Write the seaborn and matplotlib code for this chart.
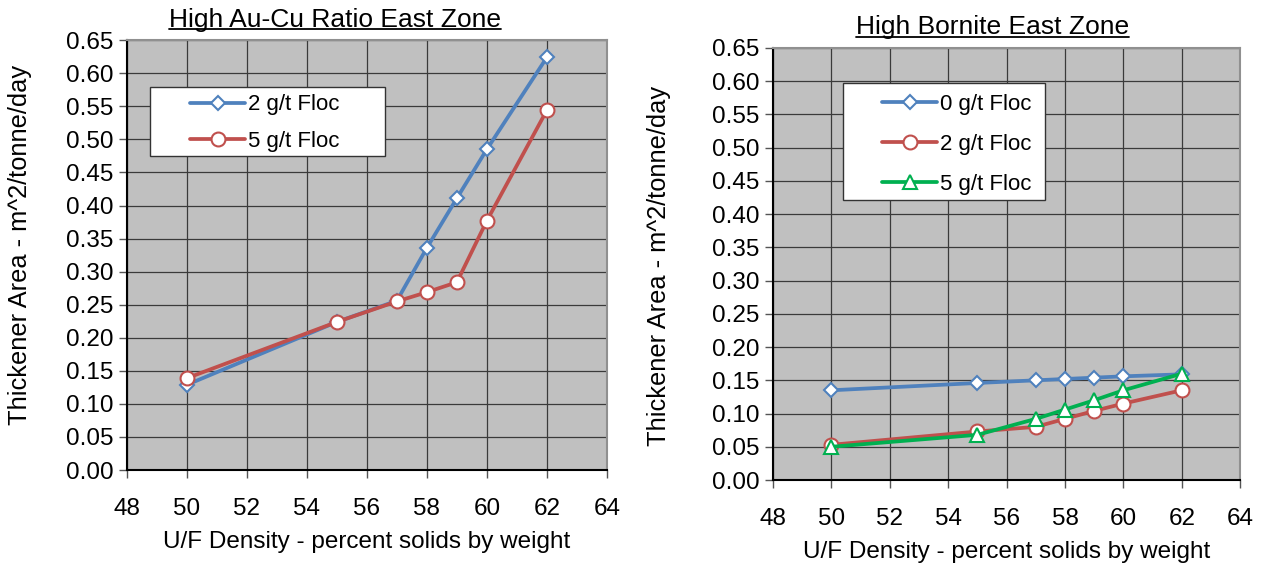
import numpy as np
import pandas as pd
import seaborn as sns
import matplotlib.pyplot as plt
from matplotlib.lines import Line2D
from matplotlib.patches import Rectangle

sns.set_style("white")
plt.rcParams['font.family'] = ['Liberation Sans', 'DejaVu Sans']
plt.rcParams['text.color'] = 'black'
plt.rcParams['axes.labelcolor'] = 'black'

# left chart: High Au-Cu Ratio East Zone
density = [50, 55, 57, 58, 59, 60, 62]
au_2g = [0.129, 0.224, 0.256, 0.336, 0.411, 0.485, 0.624]
au_5g = [0.139, 0.224, 0.255, 0.269, 0.284, 0.377, 0.544]

# right chart: High Bornite East Zone
bn_0g = [0.135, 0.146, 0.150, 0.152, 0.154, 0.156, 0.159]
bn_2g = [0.053, 0.073, 0.080, 0.092, 0.104, 0.115, 0.135]
bn_5g = [0.050, 0.068, 0.092, 0.106, 0.120, 0.135, 0.160]

BLUE = '#4F81BD'
RED = '#C0504D'
GREEN = '#00B050'
FS = 17.5

fig = plt.figure(figsize=(12.66, 5.67), dpi=100)
ax1 = fig.add_axes([0.1003, 0.171, 0.379, 0.758])
ax2 = fig.add_axes([0.6106, 0.1534, 0.369, 0.762])

def draw(ax, series, ylab_pos):
    for vals, lab, col, mk, ms in series:
        df = pd.DataFrame({'x': density, 'y': vals})
        sns.lineplot(data=df, x='x', y='y', ax=ax, color=col, lw=2.7,
                     marker=mk, markersize=ms, markerfacecolor='white',
                     markeredgecolor=col, markeredgewidth=1.5, label=lab)
    ax.set_facecolor('#C0C0C0')
    ax.set_xlim(48, 64)
    ax.set_ylim(0, 0.65)
    ax.set_xticks(np.arange(48, 65, 2))
    ax.set_yticks(np.arange(0, 0.651, 0.05))
    ax.set_yticklabels(['%.2f' % v for v in np.arange(0, 0.651, 0.05)])
    ax.grid(True, color='#3a3a3a', lw=0.9)
    ax.set_axisbelow(True)
    ax.tick_params(axis='both', direction='out', length=6, width=1,
                   color='#555555', labelcolor='black', labelsize=FS,
                   left=True, bottom=True)
    ax.tick_params(axis='x', pad=14)
    for s in ['left', 'bottom']:
        ax.spines[s].set_color('black')
        ax.spines[s].set_linewidth(1.5)
    for s in ['top', 'right']:
        ax.spines[s].set_color('#909090')
        ax.spines[s].set_linewidth(1.5)
    ax.set_xlabel('U/F Density - percent solids by weight', fontsize=FS, labelpad=8)
    ax.set_ylabel('Thickener Area - m^2/tonne/day', fontsize=18.3, va='center')
    ax.yaxis.set_label_coords(*ylab_pos)

def legend_box(ax, box, anchor, spacing):
    x0, y0, x1, y1 = box
    ax.add_patch(Rectangle((x0, y0), x1 - x0, y1 - y0, transform=ax.transAxes,
                           facecolor='white', edgecolor='#333333', lw=1.0,
                           zorder=4.9, clip_on=False))
    ax.legend(loc='upper left', bbox_to_anchor=anchor, fontsize=16, frameon=False,
              borderpad=0, labelspacing=spacing, handlelength=2.5,
              handletextpad=0.12, borderaxespad=0)

draw(ax1, [(au_2g, '2 g/t Floc', BLUE, 'D', 7),
           (au_5g, '5 g/t Floc', RED, 'o', 10)], (-0.222, 0.523))
draw(ax2, [(bn_0g, '0 g/t Floc', BLUE, 'D', 7),
           (bn_2g, '2 g/t Floc', RED, 'o', 10),
           (bn_5g, '5 g/t Floc', GREEN, '^', 10)], (-0.244, 0.495))

legend_box(ax1, (0.048, 0.7302, 0.5375, 0.8907), (0.131, 0.874), 0.68)
legend_box(ax2, (0.15, 0.648, 0.582, 0.919), (0.233, 0.894), 0.86)

# underlined titles
titles = [fig.text(0.265, 0.965, 'High Au-Cu Ratio East Zone', ha='center', va='center', fontsize=19),
          fig.text(0.784, 0.952, 'High Bornite East Zone', ha='center', va='center', fontsize=19)]
fig.canvas.draw()
r = fig.canvas.get_renderer()
for t in titles:
    bb = t.get_window_extent(r).transformed(fig.transFigure.inverted())
    yl = bb.y0 + 0.1 * bb.height
    fig.add_artist(Line2D([bb.x0, bb.x1], [yl, yl], color='black', lw=1.3,
                          transform=fig.transFigure))

fig.savefig('out.png', dpi=100)
